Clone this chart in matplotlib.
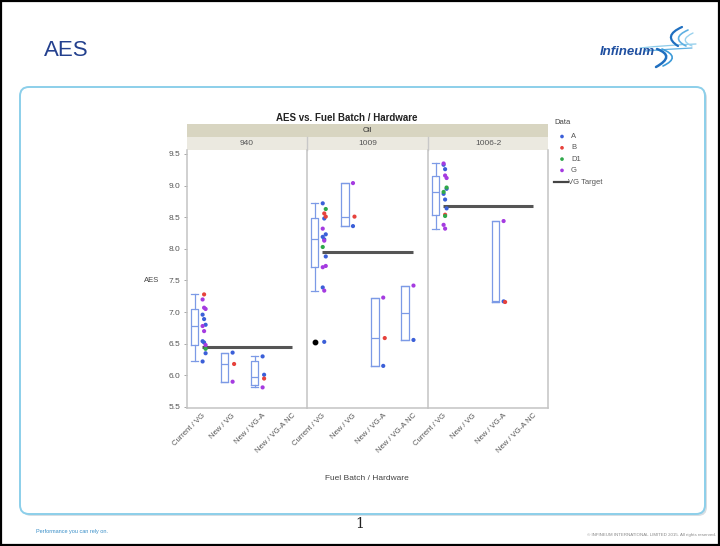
import numpy as np
import matplotlib
matplotlib.use("Agg")
import matplotlib.pyplot as plt
from matplotlib.patches import FancyBboxPatch, Rectangle
from matplotlib.path import Path
from matplotlib.patches import PathPatch

plt.rcParams["font.family"] = ["Liberation Sans", "DejaVu Sans"]

# ---- data ---------------------------------------------------------------
categories = ["Current / VG", "New / VG", "New / VG-A", "New / VG-A NC"]
oils = ["940", "1009", "1006-2"]
series_names = ["A", "B", "D1", "G"]
series_colors = ["#3B5FD8", "#E6423C", "#2FA84A", "#A53BE0"]
vg_target = [6.45, 7.95, 8.67]

# values per category (same order as `categories`) for each series
oil940_A = [[6.96, 6.89, 6.80, 6.54, 6.52, 6.35, 6.22], [6.36], [6.30, 6.01], []]
oil940_B = [[7.28], [6.18], [5.95], []]
oil940_D1 = [[6.42], [], [], []]
oil940_G = [[7.20, 7.07, 7.05, 6.78, 6.70, 6.48], [5.90], [5.81], []]

oil1009_A = [[8.72, 8.48, 8.23, 8.19, 8.15, 7.88, 7.39, 6.53], [8.36], [6.15], [6.56]]
oil1009_B = [[8.56, 8.51], [8.51], [6.59], []]
oil1009_D1 = [[8.63, 8.03], [], [], []]
oil1009_G = [[8.32, 8.13, 7.73, 7.71, 7.34], [9.04], [7.23], [7.42]]

oil1006_A = [[9.33, 9.26, 8.95, 8.87, 8.78, 8.64], [], [7.17], []]
oil1006_B = [[8.54], [], [7.16], []]
oil1006_D1 = [[8.97, 8.90, 8.52], [], [], []]
oil1006_G = [[9.35, 9.16, 9.12, 8.38, 8.32], [], [8.44], []]

panels = [
    [oil940_A, oil940_B, oil940_D1, oil940_G],
    [oil1009_A, oil1009_B, oil1009_D1, oil1009_G],
    [oil1006_A, oil1006_B, oil1006_D1, oil1006_G],
]

# ---- figure / slide ----------------------------------------------------------
W, H = 720, 546
fig = plt.figure(figsize=(W / 100, H / 100), dpi=100)
fig.patch.set_facecolor("white")

bg = fig.add_axes([0, 0, 1, 1], zorder=0)
bg.set_xlim(0, W)
bg.set_ylim(H, 0)
bg.axis("off")

# outer frame
bg.add_patch(Rectangle((1, 1), W - 2, H - 2, fill=False, ec="black", lw=1.6))

# content panel with a soft shadow
bg.add_patch(FancyBboxPatch((22, 89), 685, 427, boxstyle="round,pad=0,rounding_size=9",
                            fc="#D8DEE3", ec="none"))
bg.add_patch(FancyBboxPatch((20, 87), 685, 427, boxstyle="round,pad=0,rounding_size=9",
                            fc="white", ec="#8CCFEA", lw=1.4))

bg.text(44, 50, "AES", fontsize=16, color="#23408E", va="center", ha="left")

# logo
bg.text(600, 52, "Infineum", fontsize=9.5, fontweight="bold", fontstyle="italic",
        color="#1F4FA0", va="center", ha="left")
swirls = [
    # horizontal strokes
    ((640, 48), (668, 45), (696, 44), "#8CCBEA", 0.9),
    ((645, 51), (670, 49), (692, 48), "#5FB0E2", 0.9),
    # upper arcs opening to the right
    ((682, 27), (662, 36), (678, 46), "#1F6FC0", 1.6),
    ((688, 30), (670, 38), (686, 46), "#5FB0E2", 1.2),
    ((693, 33), (678, 40), (692, 46), "#9AD2EE", 1.0),
    # lower arcs opening to the left
    ((657, 49), (676, 56), (656, 67), "#1F6FC0", 1.8),
    ((662, 49), (682, 57), (663, 66), "#3C9AD8", 1.2),
]
for p0, c, p1, col, lw in swirls:
    path = Path([p0, c, p1], [Path.MOVETO, Path.CURVE3, Path.CURVE3])
    bg.add_patch(PathPatch(path, fill=False, ec=col, lw=lw, capstyle="round"))

bg.text(360, 524, "1", fontsize=10, color="#222222", ha="center", va="center",
        family=["DejaVu Serif"])
bg.text(36, 532, "Performance you can rely on.", fontsize=4, color="#3A8FC8",
        ha="left", va="center")
bg.text(716, 535, "\u00a9 INFINEUM INTERNATIONAL LIMITED 2015. All rights reserved.",
        fontsize=3.2, color="#888888", ha="right", va="center")

# ---- chart geometry ------------------------------------------------------------
edges = [187, 307, 428, 548]
top_px, bot_px = 150, 408
y_per_px = 4.0 / 253.0
ymax = 9.5 + (154 - top_px) * y_per_px
ymin = 9.5 - (bot_px - 154) * y_per_px

# header strips
bg.add_patch(Rectangle((edges[0], 124), edges[-1] - edges[0], 13, fc="#D8D5C1", ec="none"))
bg.add_patch(Rectangle((edges[0], 137), edges[-1] - edges[0], 13, fc="#EBE9E0", ec="none"))
bg.text((edges[0] + edges[-1]) / 2, 130.5, "Oil", fontsize=5.5, color="#333333",
        ha="center", va="center")
for k in range(3):
    bg.text((edges[k] + edges[k + 1]) / 2, 143.5, oils[k], fontsize=6, color="#555555",
            ha="center", va="center")
for e in edges[1:-1]:
    bg.plot([e, e], [137, 150], color="#C8C8C8", lw=1.0)
bg.text(347, 118, "AES vs. Fuel Batch / Hardware", fontsize=7, fontweight="bold",
        color="#222222", ha="center", va="center")

box_color = "#7C9AE6"
box_off = -0.25
box_w = 0.26

for k in range(3):
    ax = fig.add_axes([edges[k] / W, 1 - bot_px / H,
                       (edges[k + 1] - edges[k]) / W, (bot_px - top_px) / H], zorder=2)
    ax.set_xlim(-0.5, 3.5)
    ax.set_ylim(ymin, ymax)
    ax.patch.set_alpha(0)
    for s in ["top", "right"]:
        ax.spines[s].set_visible(False)
    ax.spines["left"].set_color("#C4C4C4")
    ax.spines["bottom"].set_color("#C4C4C4")
    ax.spines["left"].set_linewidth(1.1)
    ax.spines["bottom"].set_linewidth(1.1)
    if k == 2:
        ax.spines["right"].set_visible(True)
        ax.spines["right"].set_color("#C4C4C4")
        ax.spines["right"].set_linewidth(1.1)

    ax.set_xticks(range(len(categories)))
    ax.set_xticklabels(categories, rotation=45, ha="right", rotation_mode="anchor",
                       fontsize=5.5, color="#555555")
    ax.tick_params(axis="x", length=0, pad=3)
    if k == 0:
        ax.set_yticks(np.arange(5.5, 9.51, 0.5))
        ax.set_yticklabels([f"{v:.1f}" for v in np.arange(5.5, 9.51, 0.5)],
                           fontsize=6, color="#555555")
        ax.tick_params(axis="y", length=2.5, width=0.6, color="#999999", pad=2)
    else:
        ax.set_yticks([])

    data = panels[k]
    stats, positions = [], []
    for c in range(len(categories)):
        vals = np.array(sorted(sum((data[s][c] for s in range(4)), [])))
        if len(vals) == 0:
            continue
        q1, med, q3 = np.percentile(vals, [25, 50, 75], method="weibull")
        iqr = q3 - q1
        lo = vals[vals >= q1 - 1.5 * iqr].min()
        hi = vals[vals <= q3 + 1.5 * iqr].max()
        fl = vals[(vals < lo) | (vals > hi)]
        stats.append(dict(med=med, q1=q1, q3=q3, whislo=lo, whishi=hi, fliers=fl))
        positions.append(c + box_off)
    ax.bxp(stats, positions=positions, widths=box_w, capwidths=box_w,
           boxprops=dict(color=box_color, lw=0.9),
           whiskerprops=dict(color=box_color, lw=0.9),
           capprops=dict(color=box_color, lw=0.9),
           medianprops=dict(color=box_color, lw=0.9),
           flierprops=dict(marker="o", markersize=3.2, markerfacecolor="black",
                           markeredgecolor="black"),
           manage_ticks=False)

    # target line from first to last category
    ax.plot([0, len(categories) - 1], [vg_target[k]] * 2, color="#555555", lw=2.2,
            zorder=3, solid_capstyle="butt")

    # jittered points
    for s in range(4):
        for c in range(len(categories)):
            v = data[s][c]
            if not v:
                continue
            xs = c + 0.02 + 0.05 * ((np.arange(len(v)) + s) % 3)
            ax.scatter(xs, v, s=9, color=series_colors[s], edgecolors="none", zorder=4)

# axis titles
bg.text(152, 280, "AES", fontsize=5.5, color="#444444", ha="center", va="center")
bg.text(367, 479, "Fuel Batch / Hardware", fontsize=6, color="#444444",
        ha="center", va="center")

# legend
bg.text(554, 122, "Data", fontsize=5.5, color="#444444", ha="left", va="center")
for i, (nm, col) in enumerate(zip(series_names, series_colors)):
    y = 136.5 + i * 11.3
    bg.scatter([562], [y], s=7, color=col, edgecolors="none")
    bg.text(571, y, nm, fontsize=5.5, color="#555555", ha="left", va="center")
bg.plot([554, 568], [182, 182], color="#444444", lw=1.6)
bg.text(568, 182, "VG Target", fontsize=5.5, color="#555555", ha="left", va="center")

fig.savefig("out.png", dpi=100, facecolor="white")
